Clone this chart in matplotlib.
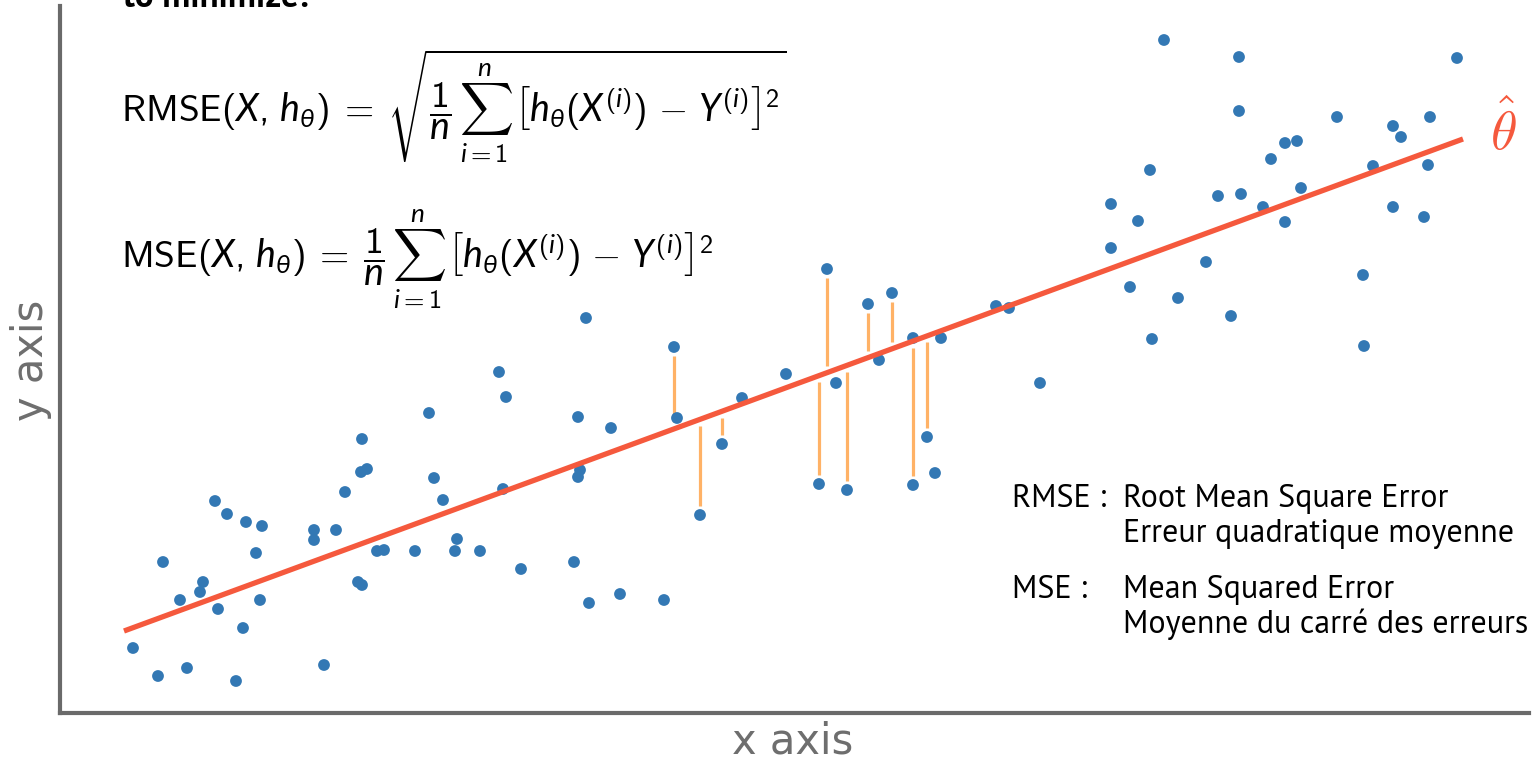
import numpy as np
import matplotlib
matplotlib.use("Agg")
import matplotlib.pyplot as plt

W, H = 1535, 763

# ---- data ----
x_vals = [0.73, 0.98, 1.03, 1.20, 1.27, 1.40, 1.43, 1.55, 1.58, 1.67, 1.76, 1.83, 1.86, 1.96, 2.00, 2.02,
          2.54, 2.54, 2.64, 2.76, 2.85, 2.98, 3.02, 3.02, 3.01, 3.07, 3.17, 3.24, 3.55, 3.69, 3.74, 3.83,
          3.95, 3.97, 4.20, 4.39, 4.46, 4.43, 4.61, 5.14, 5.18, 5.20, 5.18, 5.26, 5.29, 5.51, 5.60, 6.04,
          6.14, 6.17, 6.40, 6.62, 6.82, 7.26, 7.67, 7.59, 7.76, 7.87, 8.08, 8.19, 8.32, 8.53, 8.53, 8.67,
          8.75, 8.81, 9.36, 9.49, 9.80,
          11.04, 11.79, 13.97, 11.79, 12.77, 13.70, 13.33, 13.41, 12.25, 12.37, 12.11, 10.90, 13.13, 13.68,
          12.41, 10.51, 11.58, 11.81, 12.03, 10.78, 12.25, 13.33, 13.64, 10.51, 11.46, 10.70, 11.18, 11.71,
          13.03, 10.92, 13.04]
y_vals = [0.65, 0.37, 1.51, 1.13, 0.45, 1.21, 1.31, 2.12, 1.04, 1.99, 0.32, 0.85, 1.91, 1.60, 1.13, 1.87,
          1.83, 1.73, 0.48, 1.83, 2.21, 1.31, 1.28, 2.74, 2.41, 2.44, 1.62, 1.63, 1.62, 3.00, 2.35, 2.13,
          1.62, 1.74, 1.62, 3.41, 3.16, 2.24, 1.44, 1.51, 2.96, 2.43, 2.36, 3.95, 1.10, 2.85, 1.19, 1.13,
          3.66, 2.95, 1.98, 2.69, 3.15, 3.39, 4.44, 2.29, 3.30, 2.23, 4.09, 3.53, 4.20, 3.75, 2.28, 2.76,
          2.40, 3.75, 4.07, 4.05, 3.30,
          6.73, 6.56, 6.55, 6.02, 5.96, 5.96, 5.87, 5.76, 5.70, 5.72, 5.54, 5.43, 5.47, 5.48,
          5.25, 5.09, 5.17, 5.19, 5.06, 4.92, 4.91, 5.06, 4.96, 4.65, 4.51, 4.26, 4.15, 3.97,
          4.38, 3.74, 3.67]
residual_idx = [48, 50, 51, 53, 54, 55, 57, 58, 60, 62, 63]
fit_x = [0.64, 14.03]
fit_y = [0.82, 5.74]

x_label = "x axis"
y_label = "y axis"
heading = "to minimize:"
rmse_formula = (r'$\mathrm{RMSE}(X,\, h_\theta)\;=\;\sqrt{\dfrac{1}{n}\,\sum_{i=1}^{n}\,'
                r'\left[h_\theta(X^{(i)})\,-\,Y^{(i)}\right]^2}$')
mse_formula = (r'$\mathrm{MSE}(X,\, h_\theta)\;=\;\dfrac{1}{n}\,\sum_{i=1}^{n}\,'
               r'\left[h_\theta(X^{(i)})\,-\,Y^{(i)}\right]^2$')
legend_rows = [("RMSE :", "Root Mean Square Error", "Erreur quadratique moyenne"),
               ("MSE :", "Mean Squared Error", "Moyenne du carré des erreurs")]

# ---- style ----
plt.rcParams['mathtext.fontset'] = 'custom'
plt.rcParams['mathtext.rm'] = 'cmss10'
plt.rcParams['mathtext.sf'] = 'cmss10'
plt.rcParams['mathtext.it'] = 'Lato:italic'
plt.rcParams['mathtext.bf'] = 'Lato:bold'
plt.rcParams['mathtext.fallback'] = 'cm'

POINT_C = '#3378b4'
LINE_C = '#f5593d'
RES_C = '#ffb266'
SPINE_C = '#6a6a6a'
LABEL_C = '#6e6e6e'
TEXT_FONT = ['PT Sans', 'Fira Sans', 'Open Sans', 'DejaVu Sans']

fig = plt.figure(figsize=(W / 100, H / 100), dpi=100)

def fx(px):
    return px / W

def fy(py):
    return 1 - py / H

ax = fig.add_axes([fx(60), fy(713), (1529 - 60) / W, (713 - 6) / H])
ax.set_xlim(0, 14.69)
ax.set_ylim(0, 7.07)
for s in ['top', 'right']:
    ax.spines[s].set_visible(False)
for s in ['left', 'bottom']:
    ax.spines[s].set_color(SPINE_C)
    ax.spines[s].set_linewidth(3.0)
ax.set_xticks([])
ax.set_yticks([])
ax.patch.set_alpha(0)

xv = np.array(x_vals)
yv = np.array(y_vals)
line_at = np.interp(xv, fit_x, fit_y)

gap_pt, gap_ln = 0.09, 0.065
for i in residual_idx:
    y0, y1 = yv[i], line_at[i]
    d = np.sign(y1 - y0)
    a, b = y0 + d * gap_pt, y1 - d * gap_ln
    if (b - a) * d > 0:
        ax.plot([xv[i], xv[i]], [a, b], color=RES_C, lw=2.3, solid_capstyle='butt', zorder=1)

ax.scatter(xv, yv, s=72, color=POINT_C, edgecolors='none', zorder=2)
ax.plot(fit_x, fit_y, color=LINE_C, lw=3.8, solid_capstyle='butt', zorder=3)

fig.text(fx(1490), fy(150), r'$\hat{\theta}$', color=LINE_C, fontsize=39,
         math_fontfamily='cm', ha='left', va='baseline')

# axis labels
fig.text(fx(793), fy(753), x_label, color=LABEL_C, fontsize=30, ha='center', va='baseline')
fig.text(fx(43), fy(360), y_label, color=LABEL_C, fontsize=30, ha='center', va='baseline',
         rotation=90, rotation_mode='anchor')

# cut-off heading
fig.text(fx(123), fy(7), heading, fontsize=25, fontweight='bold', family=TEXT_FONT,
         ha='left', va='baseline')

# formulas
fig.text(fx(121), fy(123), rmse_formula, fontsize=27, ha='left', va='baseline')
fig.text(fx(121), fy(268), mse_formula, fontsize=27, ha='left', va='baseline')

# legend text
for (abbr, en, fr), base in zip(legend_rows, [507, 598]):
    fig.text(fx(1012), fy(base), abbr, fontsize=23, family=TEXT_FONT, ha='left', va='baseline')
    fig.text(fx(1123), fy(base), en, fontsize=23, family=TEXT_FONT, ha='left', va='baseline')
    fig.text(fx(1123), fy(base + 35), fr, fontsize=23, family=TEXT_FONT, ha='left', va='baseline')

fig.savefig('out.png', dpi=100)
